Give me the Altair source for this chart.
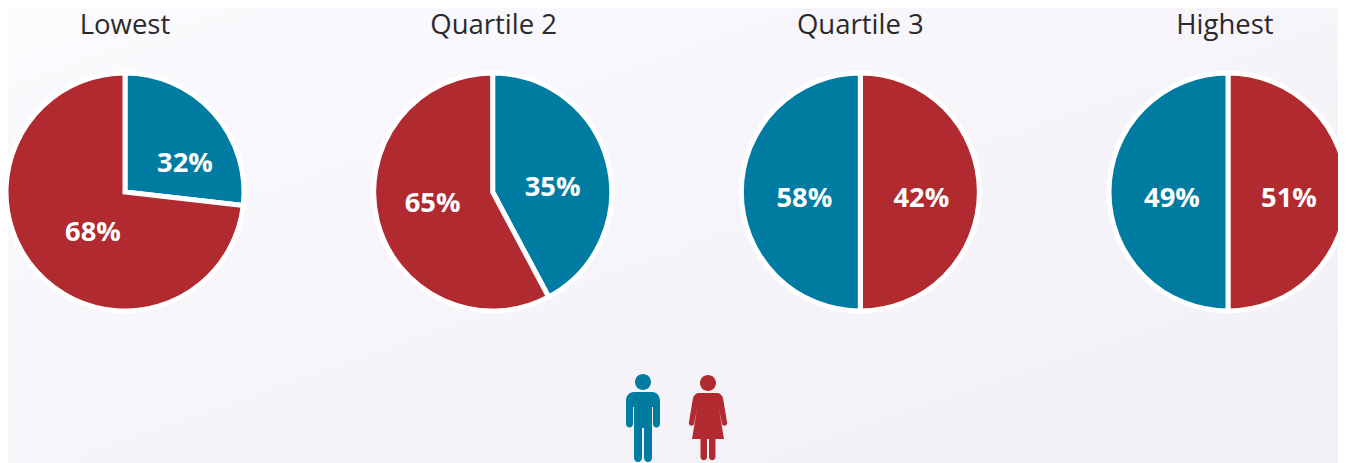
import altair as alt
import pandas as pd

# ---- data ----
quartiles = ["Lowest", "Quartile 2", "Quartile 3", "Highest"]
men_labels = ["32%", "35%", "58%", "49%"]
women_labels = ["68%", "65%", "42%", "51%"]
# slice sizes as drawn (degrees of arc in the reference, expressed as % of the circle)
men_drawn = [26.8, 42.2, 50.0, 50.0]
women_drawn = [73.2, 57.8, 50.0, 50.0]
# which gender starts clockwise from 12 o'clock
men_first = [True, True, False, False]
genders = ["Men", "Women"]

# ---- style / layout ----
BLUE = "#007ca3"
RED = "#b02a30"
W, H = 1330, 455
PIE_Y = 184
X_RANGE = [117, 1220]
men_off = [(60, -28), (60, -4), (-56, 7), (-56, 7)]
women_off = [(-32, 41), (-60, 12), (61, 7), (61, 7)]
title_dx = [0, 1, 0, -3]

MAN = ("M0,-46 A8,8 0 1,1 -0.01,-46 Z "
       "M-9,-28 L9,-28 C14,-28 17,-24 17,-19 L17,4 A3.5,3.5 0 0 1 10,4 L10,-13 L9,-13 "
       "L9,38 A4,4 0 0 1 1,38 L1,8 L-1,8 L-1,38 A4,4 0 0 1 -9,38 L-9,-13 L-10,-13 "
       "L-10,4 A3.5,3.5 0 0 1 -17,4 L-17,-19 C-17,-24 -14,-28 -9,-28 Z")
WOMAN = ("M0,-45 A8,8 0 1,1 -0.01,-45 Z "
         "M-9,-27 L9,-27 C12,-27 14,-25 15,-22 L19,2 A2.6,2.6 0 0 1 14,4 L11,-11 L16,19 "
         "L7.5,19 L7.5,37 A3.2,3.2 0 0 1 1,37 L1,19 L-1,19 L-1,37 A3.2,3.2 0 0 1 -7.5,37 "
         "L-7.5,19 L-16,19 L-11,-11 L-14,4 A2.6,2.6 0 0 1 -19,2 L-15,-22 C-14,-25 -12,-27 -9,-27 Z")

rows = []
for q, m, w, first in zip(quartiles, men_drawn, women_drawn, men_first):
    if first:
        rows.append(dict(q=q, g="Men", a=0, b=m))
        rows.append(dict(q=q, g="Women", a=m, b=100))
    else:
        rows.append(dict(q=q, g="Women", a=0, b=w))
        rows.append(dict(q=q, g="Men", a=w, b=100))
pie_df = pd.DataFrame(rows)

x_enc = alt.X("q:N", axis=None,
              scale=alt.Scale(type="point", domain=quartiles, range=X_RANGE, padding=0))

background = alt.Chart(pd.DataFrame({"a": [0]})).mark_rect(
    fill=alt.Gradient(
        gradient="linear", x1=0, y1=0, x2=1, y2=1,
        stops=[alt.GradientStop(color="#fbfafd", offset=0),
               alt.GradientStop(color="#f2eff6", offset=1)],
    )
).encode(x=alt.value(0), x2=alt.value(W), y=alt.value(0), y2=alt.value(H))

pies = alt.Chart(pie_df).mark_arc(
    outerRadius=119, stroke="white", strokeWidth=5
).encode(
    x=x_enc,
    y=alt.value(PIE_Y),
    theta=alt.Theta("a:Q", scale=alt.Scale(domain=[0, 100], range=[0, 6.283185307])),
    theta2=alt.Theta2("b:Q"),
    color=alt.Color("g:N", legend=None,
                    scale=alt.Scale(domain=genders, range=[BLUE, RED])),
)

layers = [background, pies]

for q, dx in zip(quartiles, title_dx):
    layers.append(
        alt.Chart(pd.DataFrame({"q": [q]})).mark_text(
            font="Open Sans", fontSize=27.5, color="#2a2a2e",
            baseline="alphabetic", align="center", dx=dx,
        ).encode(x=x_enc, y=alt.value(26), text="q:N")
    )

for q, label, (dx, dy) in list(zip(quartiles, men_labels, men_off)) + list(zip(quartiles, women_labels, women_off)):
    layers.append(
        alt.Chart(pd.DataFrame({"q": [q], "t": [label]})).mark_text(
            font="Open Sans", fontWeight="bold", fontSize=27.3, color="white",
            baseline="middle", align="center", dx=dx, dy=dy,
        ).encode(x=x_enc, y=alt.value(PIE_Y), text="t:N")
    )

icon_x = alt.X("g:N", axis=None,
               scale=alt.Scale(type="point", domain=genders, range=[635, 700], padding=0))
for g, path, col in [("Men", MAN, BLUE), ("Women", WOMAN, RED)]:
    layers.append(
        alt.Chart(pd.DataFrame({"g": [g]})).mark_point(
            shape=path, filled=True, size=4, fill=col, opacity=1, strokeWidth=0
        ).encode(x=icon_x, y=alt.value(412))
    )

chart = alt.layer(*layers).resolve_scale(x="independent").properties(
    width=W, height=H, padding=0, autosize=alt.AutoSizeParams(type="none")
).configure_view(stroke=None).configure(background="#f8f6fa")

chart.save("out.html", embed_options={"renderer": "svg", "actions": False})
